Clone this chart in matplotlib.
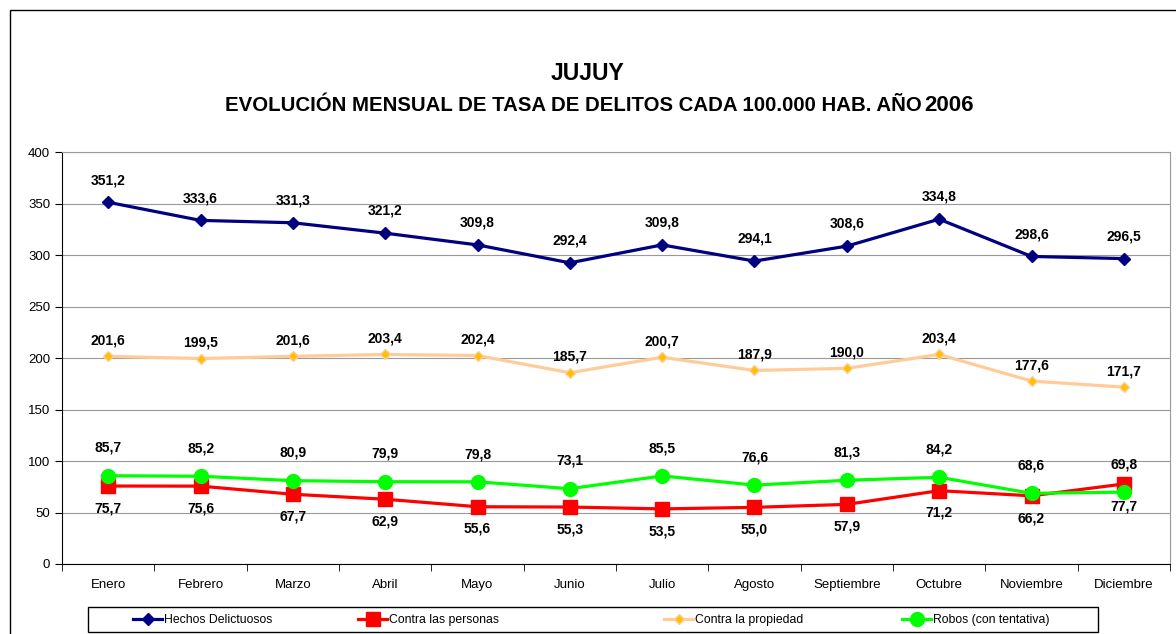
import matplotlib.pyplot as plt
from matplotlib.patches import Rectangle
from matplotlib.lines import Line2D

plt.rcParams['font.family'] = ['Liberation Sans', 'DejaVu Sans']

meses = ["Enero", "Febrero", "Marzo", "Abril", "Mayo", "Junio", "Julio",
         "Agosto", "Septiembre", "Octubre", "Noviembre", "Diciembre"]
hechos = [351.2, 333.6, 331.3, 321.2, 309.8, 292.4, 309.8, 294.1, 308.6, 334.8, 298.6, 296.5]
personas = [75.7, 75.6, 67.7, 62.9, 55.6, 55.3, 53.5, 55.0, 57.9, 71.2, 66.2, 77.7]
propiedad = [201.6, 199.5, 201.6, 203.4, 202.4, 185.7, 200.7, 187.9, 190.0, 203.4, 177.6, 171.7]
robos = [85.7, 85.2, 80.9, 79.9, 79.8, 73.1, 85.5, 76.6, 81.3, 84.2, 68.6, 69.8]


def fmt(v):
    return f"{v:.1f}".replace(".", ",")


W, H = 1176, 634
fig = plt.figure(figsize=(11.76, 6.34), dpi=100)
fig.patches.append(Rectangle((10 / W, -0.1), 1.2, 1 - 10 / H + 0.1,
                             transform=fig.transFigure, fill=False,
                             edgecolor="black", linewidth=1.0))

ax = fig.add_axes([62 / W, 1 - 564 / H, 1108 / W, 412 / H])
x = list(range(len(meses)))

estilos = [
    dict(color="#000080", lw=2.3, marker="D", ms=6.5),
    dict(color="#FF0000", lw=2.3, marker="s", ms=10),
    dict(color="#FFCC99", lw=2.3, marker="D", ms=5, mfc="#FFC000", mec="#FFCC99"),
    dict(color="#00FF00", lw=2.3, marker="o", ms=10),
]
nombres = ["Hechos Delictuosos", "Contra las personas",
           "Contra la propiedad", "Robos (con tentativa)"]

ax.plot(x, hechos, **estilos[0])
ax.plot(x, personas, **estilos[1])
ax.plot(x, propiedad, **estilos[2])
ax.plot(x, robos, **estilos[3])

lab = dict(ha="center", va="center", fontsize=10, fontweight="bold",
           textcoords="offset points")
for i in x:
    ax.annotate(fmt(hechos[i]), (i, hechos[i]), xytext=(0, 16), **lab)
    ax.annotate(fmt(propiedad[i]), (i, propiedad[i]), xytext=(0, 11.5), **lab)
    ax.annotate(fmt(robos[i]), (i, robos[i]), xytext=(0, 20), **lab)
    ax.annotate(fmt(personas[i]), (i, personas[i]), xytext=(0, -16), **lab)

ax.set_xlim(-0.5, 11.5)
ax.set_ylim(0, 400)
ax.set_yticks(range(0, 401, 50))
ax.set_xticks(x)
ax.set_xticklabels(meses, fontsize=9.5)
ax.set_xticks([i - 0.5 for i in range(13)], minor=True)
ax.tick_params(axis="x", which="major", length=0, pad=11)
ax.tick_params(axis="x", which="minor", length=5, direction="out", color="black")
ax.tick_params(axis="y", length=5, direction="out", labelsize=9.5)
ax.grid(axis="y", color="#999999", lw=0.8)
ax.set_axisbelow(True)
for s in ["top", "right"]:
    ax.spines[s].set_color("#999999")
ax.spines["left"].set_color("black")
ax.spines["bottom"].set_color("black")

fig.text(0.5, 1 - 73 / H, "JUJUY", ha="center", va="center",
         fontsize=16.5, fontweight="bold")
fig.text(922 / W, 1 - 111 / H,
         "EVOLUCIÓN MENSUAL DE TASA DE DELITOS CADA 100.000 HAB. AÑO",
         ha="right", va="baseline", fontsize=14.7, fontweight="bold")
fig.text(924 / W, 1 - 111 / H, "2006", ha="left", va="baseline",
         fontsize=16, fontweight="bold")

# legend box with four entries placed like the original
fig.patches.append(Rectangle((88 / W, 1 - 632 / H), 1010 / W, 25 / H,
                             transform=fig.transFigure, fill=False,
                             edgecolor="black", linewidth=1.0))
for px, nombre, est in zip([133, 358, 664, 902], nombres, estilos):
    h = Line2D([], [], **est)
    fig.legend([h], [nombre], loc="center left",
               bbox_to_anchor=(px / W, 1 - 620 / H), frameon=False,
               fontsize=8.8, handlelength=2.4, handletextpad=0.1,
               borderpad=0, borderaxespad=0)

fig.savefig("out.png", dpi=100)
